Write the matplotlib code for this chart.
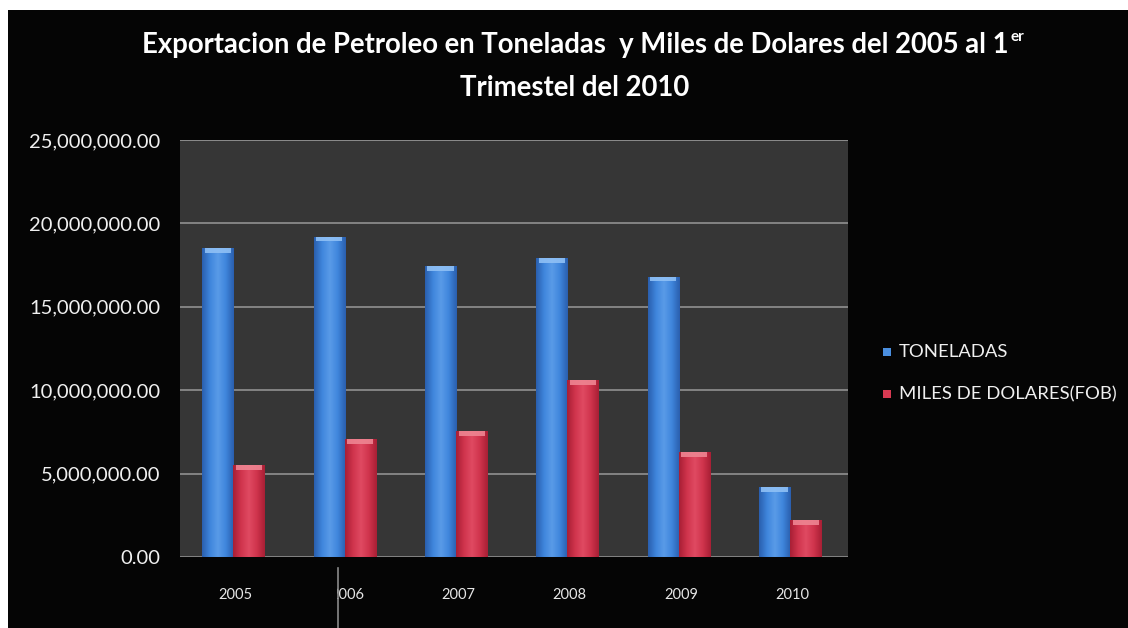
import numpy as np
import matplotlib
matplotlib.use("Agg")
import matplotlib.pyplot as plt
from matplotlib.patches import Rectangle
from matplotlib.colors import LinearSegmentedColormap
from matplotlib.ticker import FuncFormatter, MultipleLocator

years = ["2005", "2006", "2007", "2008", "2009", "2010"]
toneladas = [18500000, 19200000, 17450000, 17900000, 16800000, 4200000]
miles_dolares = [5500000, 7050000, 7550000, 10600000, 6300000, 2200000]
series_names = ["TONELADAS", "MILES DE DOLARES(FOB)"]

title_line1 = "Exportacion de Petroleo en Toneladas  y Miles de Dolares del 2005 al 1"
title_sup = "er"
title_line2 = "Trimestel del 2010"

FONT = "Lato"
W, H = 1128, 628
fig = plt.figure(figsize=(W / 100, H / 100), dpi=100, facecolor="white")

# black chart frame
frame = Rectangle((8 / W, 0), 1 - 8 / W, 1 - 10 / H,
                  transform=fig.transFigure, facecolor="#050505",
                  edgecolor="none", zorder=-10)
fig.add_artist(frame)

ax = fig.add_axes([180 / W, 71 / H, 668 / W, 417 / H])
ax.set_zorder(1)
ax.set_facecolor("#363636")
for s in ax.spines.values():
    s.set_visible(False)

x = np.arange(len(years))
bw = 0.28
blue_cmap = LinearSegmentedColormap.from_list(
    "b", ["#2a5fae", "#3f86dc", "#5a9be8", "#3f86dc", "#2a5fae"])
red_cmap = LinearSegmentedColormap.from_list(
    "r", ["#a81f35", "#d0344d", "#e04a62", "#d0344d", "#a81f35"])

def gradient_bars(xpos, vals, cmap, cap):
    bars = ax.bar(xpos, vals, width=bw, color=cmap(0.5), zorder=3, linewidth=0)
    grad = np.linspace(0, 1, 64).reshape(1, -1)
    for b in bars:
        x0, w, h = b.get_x(), b.get_width(), b.get_height()
        im = ax.imshow(grad, cmap=cmap, aspect="auto", extent=(x0, x0 + w, 0, h),
                       zorder=4, interpolation="bicubic")
        im.set_clip_path(b)
        ax.add_patch(Rectangle((x0 + w * 0.08, h - 280000), w * 0.84, 280000,
                               facecolor=cap, edgecolor="none", zorder=5, alpha=0.9))
    return bars

b1 = gradient_bars(x - 0.16, toneladas, blue_cmap, "#8fc0f5")
b2 = gradient_bars(x + 0.12, miles_dolares, red_cmap, "#ee8592")

ax.set_xlim(-0.5, len(years) - 0.5)
ax.set_ylim(0, 25000000)
ax.yaxis.set_major_locator(MultipleLocator(5000000))
ax.yaxis.set_major_formatter(FuncFormatter(lambda v, p: f"{v:,.2f}"))
ax.grid(axis="y", color="#8a8a8a", linewidth=1.3, zorder=1)
ax.set_axisbelow(True)
ax.axhline(25000000, color="#8a8a8a", linewidth=1.3, zorder=1)
ax.set_xticks(x)
ax.set_xticklabels(years)
ax.tick_params(axis="x", length=0, pad=22, labelsize=10.5, labelcolor="#e6e6e6")
ax.tick_params(axis="y", length=0, pad=14, labelsize=14.5, labelcolor="#f0f0f0")
for lab in ax.get_xticklabels() + ax.get_yticklabels():
    lab.set_fontfamily(FONT)

# title with raised ordinal
t1 = fig.text(575 / W, 1 - 45 / H, title_line1, ha="center", va="center",
              fontsize=19.8, fontweight="bold", color="white", family=FONT)
fig.canvas.draw()
bb = t1.get_window_extent()
fig.text(bb.x1 / W + 2 / W, 1 - 37 / H, title_sup, ha="left", va="center",
         fontsize=11, fontweight="bold", color="white", family=FONT)
fig.text(575 / W, 1 - 88 / H, title_line2, ha="center", va="center",
         fontsize=19.8, fontweight="bold", color="white", family=FONT)

# legend
for i, (name, col) in enumerate(zip(series_names, ["#4a8fe0", "#d83a52"])):
    yy = 1 - (352 + i * 42) / H
    fig.add_artist(Rectangle((883 / W, yy - 4 / H), 8 / W, 8 / H,
                             transform=fig.transFigure, facecolor=col,
                             edgecolor="none", zorder=5))
    fig.text(899 / W, yy, name, ha="left", va="center", fontsize=13.3,
             color="#f0f0f0", family=FONT)

# vertical rule across the lower frame, partly covering the 2006 label
fig.add_artist(Rectangle((312 / W, 1 - 605 / H), 25 / W, 24 / H,
                         transform=fig.transFigure, facecolor="#050505",
                         edgecolor="none", zorder=10))
fig.add_artist(plt.Line2D([338 / W, 338 / W], [0, 1 - 568 / H],
                          transform=fig.transFigure, color="#8a8a8a", lw=1.2,
                          zorder=11))

fig.savefig("out.png", dpi=100, facecolor="white")
